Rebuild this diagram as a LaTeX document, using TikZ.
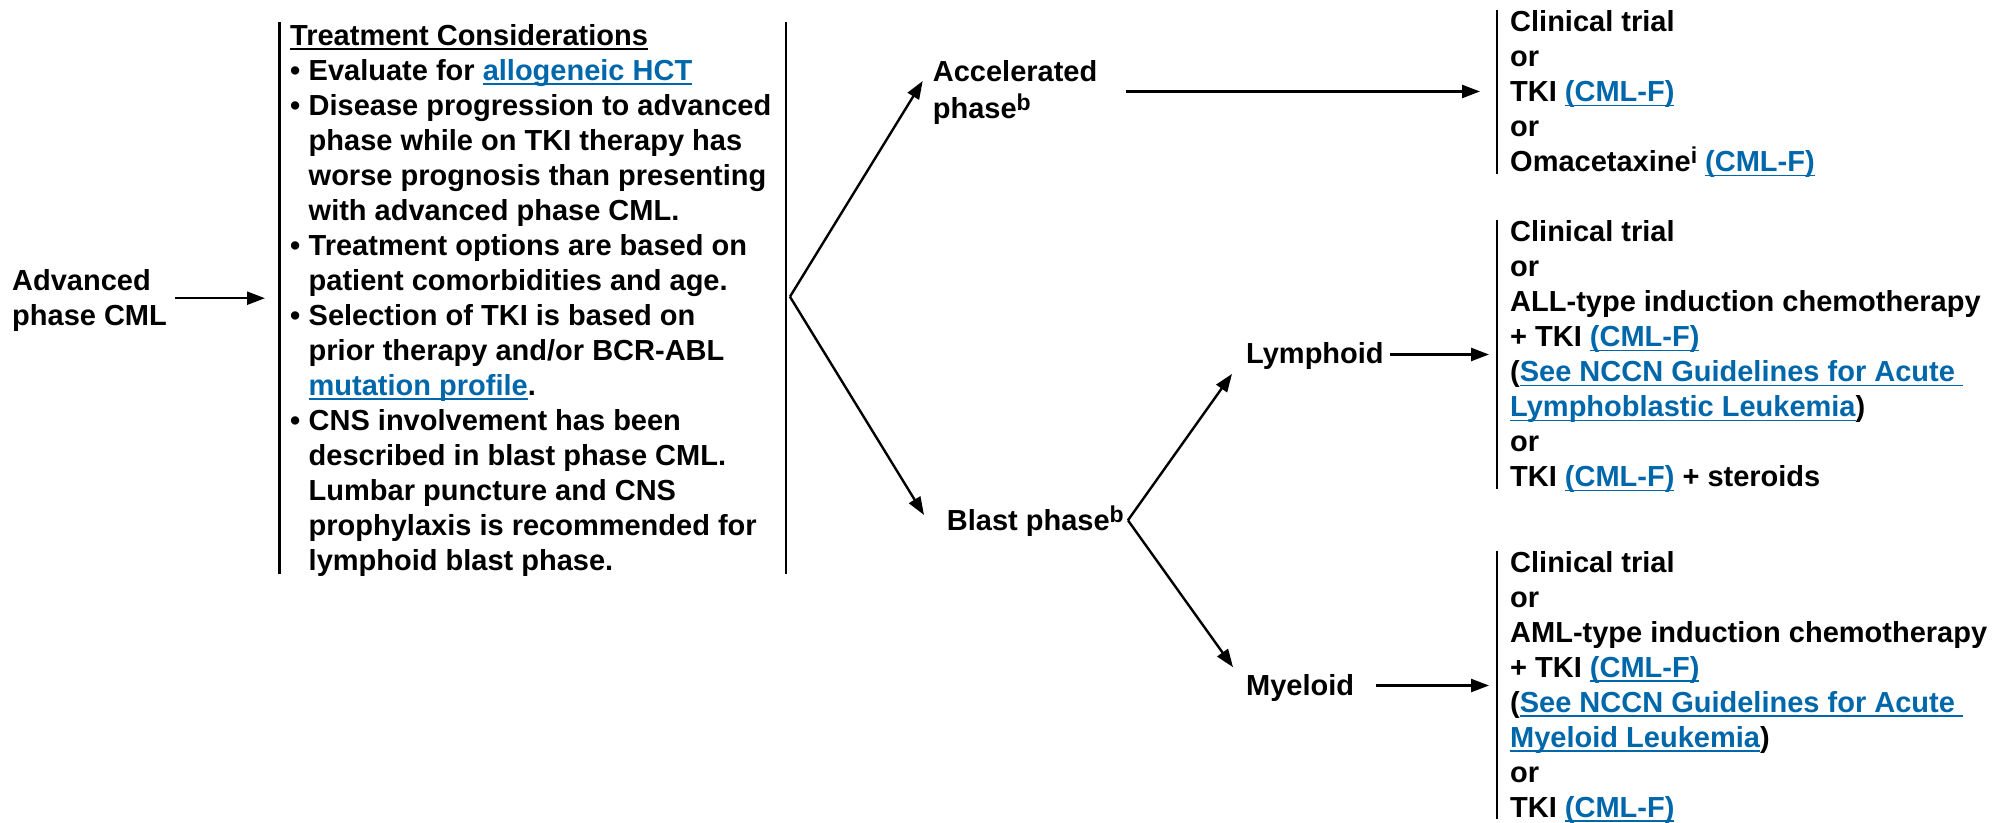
\documentclass[tikz,border=0pt]{standalone}
\usepackage{fontspec}
\setmainfont{Liberation Sans}
\usetikzlibrary{arrows.meta}

\definecolor{enlace}{RGB}{0,104,170}

\newcommand{\subr}[1]{{\setbox0=\hbox{#1}\rlap{\rule[-4.5pt]{\wd0}{1.6pt}}\box0}}
\newcommand{\enl}[1]{{\color{enlace}\subr{#1}}}
\newcommand{\bul}{\makebox[18.5pt][l]{•}}
\newcommand{\ind}{\hspace*{18.5pt}}
\newcommand{\supr}[1]{\raisebox{8pt}{\fontsize{23}{23}\selectfont #1}}

\tikzset{
    texto/.style={anchor=north west, align=left, inner sep=0pt,
        font=\fontsize{29}{35}\selectfont\bfseries},
    barra/.style={line width=2.3pt},
    flecha/.style={line width=2.4pt, -{Triangle[length=18pt,width=13pt]}}
}

\begin{document}
\begin{tikzpicture}[x=1pt, y=-1pt]
    \useasboundingbox (0,0) rectangle (1997,822);

    % Nodos principales
    \node[texto] (adv) at (12,266) {\strut Advanced\\phase CML\strut};
    \node[texto] (tc) at (290,20.5) {\strut\subr{Treatment Considerations}\\
        \bul Evaluate for \enl{allogeneic HCT}\\
        \bul Disease progression to advanced\\
        \ind phase while on TKI therapy has\\
        \ind worse prognosis than presenting\\
        \ind with advanced phase CML.\\
        \bul Treatment options are based on\\
        \ind patient comorbidities and age.\\
        \bul Selection of TKI is based on\\
        \ind prior therapy and/or BCR-ABL\\
        \ind \enl{mutation profile}.\\
        \bul CNS involvement has been\\
        \ind described in blast phase CML.\\
        \ind Lumbar puncture and CNS\\
        \ind prophylaxis is recommended for\\
        \ind lymphoid blast phase.\strut};

    \node[texto] (acel) at (932.7,57.2) {\strut Accelerated\\phase\supr{b}\strut};
    \node[texto] (blast) at (946.7,505.5) {\strut Blast phase\supr{b}};
    \node[texto] (linf) at (1246,338.8) {\strut Lymphoid};
    \node[texto] (miel) at (1246,670.5) {\strut Myeloid};

    % Opciones de tratamiento
    \node[texto] (opacel) at (1510,7.2) {\strut Clinical trial\\
        or\\
        TKI \enl{(CML-F)}\\
        or\\
        Omacetaxine\supr{i} \enl{(CML-F)}\strut};
    \node[texto] (oplinf) at (1510,217.2) {\strut Clinical trial\\
        or\\
        ALL-type induction chemotherapy\\
        + TKI \enl{(CML-F)}\\
        (\enl{See NCCN Guidelines for Acute }\\
        \enl{Lymphoblastic Leukemia})\\
        or\\
        TKI \enl{(CML-F)} + steroids\strut};
    \node[texto] (opmiel) at (1510,547.5) {\strut Clinical trial\\
        or\\
        AML-type induction chemotherapy\\
        + TKI \enl{(CML-F)}\\
        (\enl{See NCCN Guidelines for Acute }\\
        \enl{Myeloid Leukemia})\\
        or\\
        TKI \enl{(CML-F)}\strut};

    % Barras verticales
    \draw[barra] ([xshift=-10.5pt,yshift=-1.5pt]tc.north west) -- ([xshift=-10.5pt,yshift=7pt]tc.south west);
    \draw[barra] ([xshift=14.5pt,yshift=-1.5pt]tc.north east) -- ([xshift=14.5pt,yshift=7pt]tc.south east);
    \foreach \n in {opacel,oplinf,opmiel}
        \draw[barra] ([xshift=-13pt,yshift=-3pt]\n.north west) -- ([xshift=-13pt,yshift=8.5pt]\n.south west);

    % Bifurcaciones
    \coordinate (bif) at ([xshift=18.5pt,yshift=4pt]tc.east);
    \coordinate (bif2) at ([xshift=4pt,yshift=3pt]blast.east);

    % Flechas
    \draw[flecha] ([xshift=8pt,yshift=3pt]adv.east) -- ([xshift=-25pt,yshift=3pt]tc.west |- adv.east);
    \draw[flecha] (bif) -- ([xshift=-10pt,yshift=12pt]acel.west);
    \draw[flecha] (bif) -- ([xshift=-22.7pt,yshift=8.3pt]blast.west);
    \draw[flecha] (bif2) -- ([xshift=-14pt,yshift=-17.4pt]linf.west);
    \draw[flecha] (bif2) -- ([xshift=-13pt,yshift=21pt]miel.west);
    \draw[flecha] ([xshift=28pt,yshift=1.5pt]acel.east) -- ([xshift=-30pt,yshift=1.5pt]opacel.west |- acel.east);
    \draw[flecha] ([xshift=6pt,yshift=2pt]linf.east) -- ([xshift=-21pt,yshift=2pt]oplinf.west |- linf.east);
    \draw[flecha] ([xshift=22pt,yshift=2.7pt]miel.east) -- ([xshift=-21pt,yshift=2.7pt]opmiel.west |- miel.east);
\end{tikzpicture}
\end{document}
